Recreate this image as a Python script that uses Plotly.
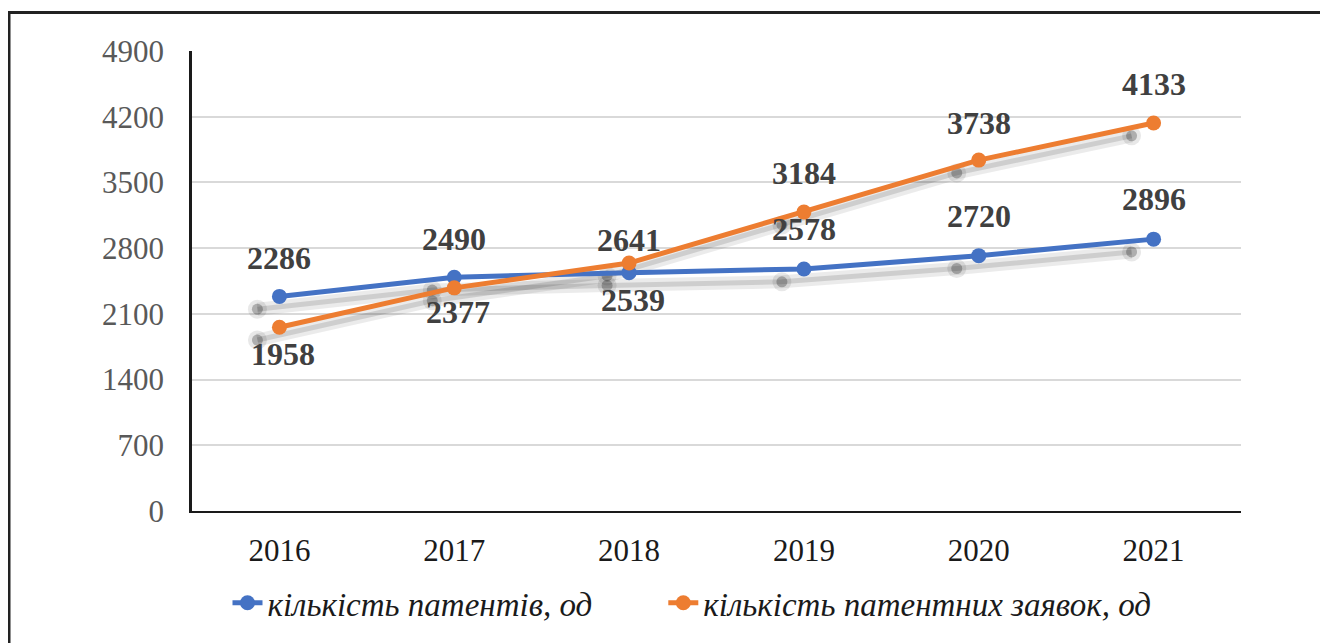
import plotly.graph_objects as go

years = ["2016", "2017", "2018", "2019", "2020", "2021"]
patents = [2286, 2490, 2539, 2578, 2720, 2896]
applications = [1958, 2377, 2641, 3184, 3738, 4133]
y_ticks = [0, 700, 1400, 2100, 2800, 3500, 4200, 4900]

name_p = "кількість патентів, од"
name_a = "кількість патентних заявок, од"

# label placement (pixel shift of value labels relative to their points)
patents_label_shift = [38, 38, -27, 40, 40, 40]
apps_label_shift = [-27, -24, 23, 39, 37, 39]

BLUE = "#4472C4"
ORANGE = "#ED7D31"

OFF = 8  # page body margin
W, H = 1328 - OFF, 643 - OFF
L, R, T, B = 192 - OFF, 1241 - OFF, 51 - OFF, 517 - OFF
plot_w, plot_h = R - L, B - T

fig = go.Figure()

idx = list(range(len(years)))

# soft shadow traces on base axes (range shifted a few pixels)
x_shift = 22 / (plot_w / 6)
y_shift = 13 * 4900 / plot_h
for vals in (patents, applications):
    fig.add_trace(go.Scatter(x=idx, y=vals, mode="lines+markers",
                             line=dict(color="rgba(0,0,0,0.08)", width=13),
                             marker=dict(size=19, color="rgba(0,0,0,0.09)"),
                             showlegend=False, hoverinfo="skip", xaxis="x", yaxis="y"))
    fig.add_trace(go.Scatter(x=idx, y=vals, mode="lines+markers",
                             line=dict(color="rgba(0,0,0,0.12)", width=5),
                             marker=dict(size=11, color="rgba(0,0,0,0.25)"),
                             showlegend=False, hoverinfo="skip", xaxis="x", yaxis="y"))

# main traces on overlay axes
fig.add_trace(go.Scatter(x=years, y=patents, name=name_p + "\u00a0" * 8, mode="lines+markers",
                         line=dict(color=BLUE, width=5), marker=dict(size=15, color=BLUE),
                         xaxis="x2", yaxis="y2"))
fig.add_trace(go.Scatter(x=years, y=applications, name=name_a, mode="lines+markers",
                         line=dict(color=ORANGE, width=5), marker=dict(size=15, color=ORANGE),
                         xaxis="x2", yaxis="y2"))

annots = []
for vals, shifts in ((patents, patents_label_shift), (applications, apps_label_shift)):
    for i, (v, s) in enumerate(zip(vals, shifts)):
        annots.append(dict(x=i, y=v, xref="x2", yref="y2", text=f"<b>{v}</b>",
                           showarrow=False, yshift=s, xshift=0 if s > 0 else 4,
                           font=dict(family="Liberation Serif", size=32, color="#404040")))

fig.update_layout(
    width=W, height=H,
    margin=dict(l=L, r=W - R, t=T, b=H - B, pad=0),
    paper_bgcolor="white", plot_bgcolor="white",
    xaxis=dict(range=[-0.5 + x_shift, 5.5 + x_shift], visible=False),
    yaxis=dict(range=[0 + y_shift, 4900 + y_shift], visible=False),
    xaxis2=dict(type="category", range=[-0.5, 5.5], overlaying="x", side="bottom",
                showgrid=False, showline=True, linecolor="#1a1a1a", linewidth=2,
                ticks="", tickfont=dict(family="Liberation Serif", size=31, color="#1a1a1a"),
                ticklabelstandoff=11),
    yaxis2=dict(range=[0, 4900], overlaying="y", side="left", tickvals=y_ticks,
                showgrid=True, gridcolor="#d9d9d9", gridwidth=2,
                showline=True, linecolor="#1a1a1a", linewidth=2.5, zeroline=False,
                ticks="", tickfont=dict(family="Liberation Serif", size=31, color="#595959"),
                ticklabelstandoff=19),
    legend=dict(orientation="h", x=(692 - 192) / plot_w, xanchor="center",
                y=(517 - 610) / plot_h, yanchor="middle",
                font=dict(family="Liberation Serif", size=33, color="#1a1a1a", style="italic"),
                bgcolor="rgba(0,0,0,0)"),
    annotations=annots,
    shapes=[dict(type="rect", xref="paper", yref="paper",
                 x0=(9 - 192) / plot_w, x1=(1345 - 192) / plot_w,
                 y0=(517 - 670) / plot_h, y1=(517 - 12) / plot_h,
                 line=dict(color="#222222", width=3), fillcolor="rgba(0,0,0,0)", layer="below")],
    showlegend=True,
)

fig.write_html("out.html")
